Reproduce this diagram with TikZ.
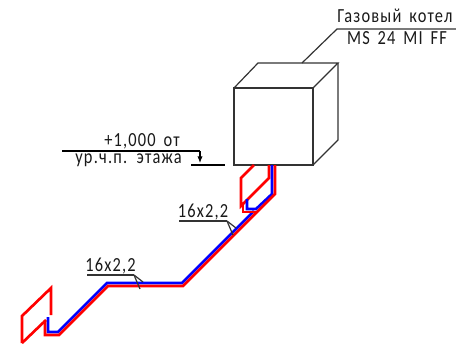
\documentclass[tikz,border=0pt]{standalone}
\usetikzlibrary{arrows.meta}
\usepackage{fontspec}
\setmainfont{Carlito}[LetterSpace=6,WordSpace=1.6,FakeStretch=0.82]
\tikzset{
  pipehot/.style={draw=red,line width=2pt,line join=miter},
  pipecold/.style={draw=blue,line width=2pt,line join=miter},
  thinline/.style={draw=black!80,line width=0.9pt},
  heavyline/.style={draw=black,line width=1.4pt},
  label/.style={inner sep=0pt,font=\fontsize{15}{16}\selectfont,text=black!90}
}
\begin{document}
\begin{tikzpicture}[x=0.75pt,y=-0.75pt]

  \useasboundingbox (0,0) rectangle (456,344);

  % draw boiler
  \draw[thinline] (234,165) rectangle (313,88);
  \draw[thinline] (234,88) -- (258,63) -- (338,63) -- (313,88);
  \draw[thinline] (338,63) -- (338,140) -- (313,165);

  % boiler label
  \node[label,anchor=base west] (boilername) at (337,22) {Газовый котел};
  \node[label,anchor=base] (boilermodel) at (397,44) {MS 24 MI FF};
  \coordinate (boilertop) at (302,63);
  \coordinate (shelf) at (337,29);
  \coordinate (shelfend) at (456,29);
  \draw[thinline] (boilertop) -- (shelf) -- (shelfend);

  % level mark
  \node[label,anchor=base east] (levelup) at (180,146) {+1,000 от};
  \node[label,anchor=base east] (leveldown) at (182,163) {ур.ч.п. этажа};
  \coordinate (levelstart) at (62,151);
  \coordinate (levelend) at (200,151);
  \coordinate (levelfoot) at (200,163);
  \coordinate (floorstart) at (191,165);
  \coordinate (floorend) at (225,165);
  \draw[heavyline] (levelstart) -- (levelend);
  \draw[draw=black,line width=0.8pt,-{Latex[length=5pt,width=4pt]}] (levelend) -- (levelfoot);
  \draw[heavyline] (floorstart) -- (floorend);

  % red loops
  \draw[pipehot] (254,165) -- (241,178) -- (241,206) -- (269,178) -- (269,165);
  \draw[pipehot] (22,343) -- (22,316) -- (51,288) -- (51,315);
  \draw[pipehot] (22,343) -- (46,320);

  % blue lines
  \draw[pipecold] (272,165) -- (272,194) -- (256,209) -- (247,209) -- (247,199);
  \draw[pipecold] (254,211) -- (182,283) -- (107,283) -- (58,332) -- (48,332) -- (48,317);

  % red lines
  \draw[pipehot] (243,205) -- (243,212) -- (257,212);
  \draw[pipehot] (275,165) -- (275,194) -- (183,286) -- (108,286) -- (59,335) -- (45,335) -- (45,320);

  % pipe tags
  \foreach \name/\xa/\xb/\ya in {uppertag/179/227/221,lowertag/87/134/275} {
    \node[label,anchor=base] (\name) at ({(\xa+\xb)/2},\ya-4) {16x2,2};
    \coordinate (\name a) at (\xa,\ya);
    \coordinate (\name b) at (\xb,\ya);
    \draw[thinline] (\name a) -- (\name b);
    \draw[thinline] (\name b) -- ++(6,14);
    \draw[thinline] (\name b) -- ++(9,7);
  }
\end{tikzpicture}
\end{document}
